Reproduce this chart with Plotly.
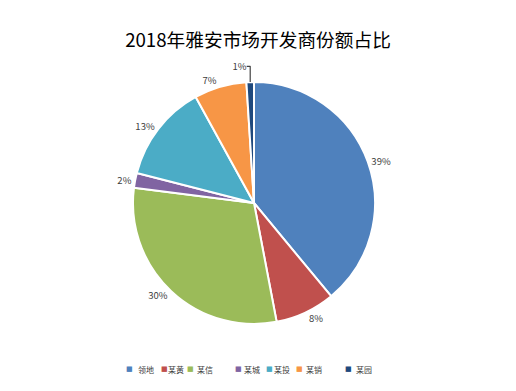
import plotly.graph_objects as go

labels = ["领地", "某黄", "某信", "某城", "某投", "某销", "某园"]
values = [39, 8, 30, 2, 13, 7, 1]
colors = ["#4F81BD", "#C0504D", "#9BBB59", "#8064A2", "#4BACC6", "#F79646", "#1F497D"]

W, H = 516, 391
cx, cy, r = 246, 195, 121

fig = go.Figure(go.Pie(
    labels=labels, values=values, sort=False, direction="clockwise", rotation=0,
    marker=dict(colors=colors, line=dict(color="white", width=2)),
    textposition="outside", texttemplate="%{percent:.0%}",
    textfont=dict(size=9.5, color="#404040", family="Noto Sans CJK SC"),
    domain=dict(x=[(cx - r) / W, (cx + r) / W], y=[1 - (cy + r) / H, 1 - (cy - r) / H]),
    hoverinfo="label+percent", showlegend=False,
))

# legend built as annotations (compact, like the original)
sq_x = [121, 156, 182, 230, 261, 291, 340]
tx_x = [129, 159, 188, 235, 265, 297, 347]
ly = 1 - 361 / H
for sx, tx, lab, col in zip(sq_x, tx_x, labels, colors):
    fig.add_annotation(x=sx / W, y=ly, xref="paper", yref="paper",
                       xanchor="center", yanchor="middle", showarrow=False, borderpad=0,
                       text="■", font=dict(size=7, color=col, family="DejaVu Sans"))
    fig.add_annotation(x=tx / W, y=ly, xref="paper", yref="paper",
                       xanchor="left", yanchor="middle", showarrow=False, borderpad=0,
                       text=lab, font=dict(size=8, color="#404040", family="Noto Sans CJK SC"))

fig.update_layout(
    width=W, height=H, margin=dict(l=0, r=0, t=0, b=0),
    paper_bgcolor="white", plot_bgcolor="white",
    font=dict(family="Noto Sans CJK SC", color="#404040"),
    title=dict(text="2018年雅安市场开发商份额占比", x=250 / W, xanchor="center", y=1 - 32 / H, yanchor="middle",
               font=dict(size=18.7, color="#000000", family="Noto Sans CJK SC")),
)
fig.write_html("out.html")
